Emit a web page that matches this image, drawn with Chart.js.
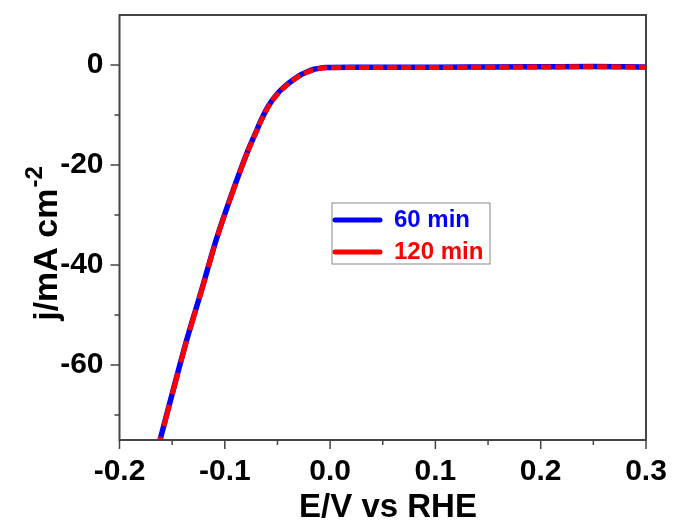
<!DOCTYPE html>
<html>
<head>
<meta charset="utf-8">
<script src="https://cdn.jsdelivr.net/npm/chart.js@4.4.1/dist/chart.umd.min.js"></script>
<style>
  body { margin: 0; background: #fff; }
  #wrap { width: 673px; height: 522px; }
</style>
</head>
<body>
<div id="wrap"><canvas id="lsvChart" width="673" height="522"></canvas></div>
<script>
// potential (V vs RHE) and current density (mA cm-2)
const potential = [-0.166, -0.1615, -0.149, -0.1362, -0.122, -0.1084, -0.0922, -0.078, -0.071, -0.065, -0.058, -0.0495, -0.042, -0.0353, -0.029, -0.0222, -0.016, -0.0096, -0.004, 0.0, 0.02, 0.05, 0.1, 0.15, 0.2, 0.25, 0.3];
const current60 = [-78.5, -75, -65, -55, -45, -35.1, -25.1, -17.1, -13.7, -10.8, -8.0, -5.6, -4.1, -3.0, -2.1, -1.4, -0.9, -0.65, -0.52, -0.48, -0.45, -0.45, -0.45, -0.4, -0.35, -0.3, -0.4];
const current120 = [-78.6, -75.1, -65.1, -55.1, -45.1, -35.2, -25.2, -17.2, -13.8, -10.9, -8.1, -5.7, -4.2, -3.05, -2.15, -1.45, -0.95, -0.7, -0.57, -0.53, -0.5, -0.5, -0.5, -0.45, -0.4, -0.35, -0.45];
const seriesNames = ['60 min', '120 min'];
const xTicks = [-0.2, -0.1, 0.0, 0.1, 0.2, 0.3];
const xMinor = [-0.15, -0.05, 0.05, 0.15, 0.25];
const yTicks = [-60, -40, -20, 0];
const yMinor = [-70, -50, -30, -10];
const xTitle = 'E/V vs RHE';
const yTitle = 'j/mA cm';
const yTitleSup = '-2';

const FONT = "'Liberation Sans', Arial, sans-serif";

const toPoints = ys => potential.map((x, i) => ({ x: x, y: ys[i] }));

// longer dashes on the steep part, short ones where the curve bends and flattens
const dashBySlope = ctx => {
  const dx = Math.abs(ctx.p1.x - ctx.p0.x), dy = Math.abs(ctx.p1.y - ctx.p0.y);
  return dy > 2.5 * dx ? [22, 11] : [10, 4];
};

const noPad = s => { s.paddingTop = 0; s.paddingBottom = 0; s.paddingLeft = 0; s.paddingRight = 0; };

// frame, outward ticks, axis titles and the boxed legend
const framePlugin = {
  id: 'frame',
  afterDraw(chart) {
    const ctx = chart.ctx;
    const a = chart.chartArea;
    const xs = chart.scales.x, ys = chart.scales.y;
    ctx.save();
    ctx.strokeStyle = '#444';
    ctx.lineWidth = 2;
    ctx.strokeRect(a.left, a.top, a.right - a.left, a.bottom - a.top);
    ctx.lineWidth = 1.5;
    ctx.beginPath();
    xTicks.forEach(v => { const p = xs.getPixelForValue(v); ctx.moveTo(p, a.bottom); ctx.lineTo(p, a.bottom + 9); });
    xMinor.forEach(v => { const p = xs.getPixelForValue(v); ctx.moveTo(p, a.bottom); ctx.lineTo(p, a.bottom + 5); });
    yTicks.forEach(v => { const p = ys.getPixelForValue(v); ctx.moveTo(a.left, p); ctx.lineTo(a.left - 9, p); });
    yMinor.forEach(v => { const p = ys.getPixelForValue(v); ctx.moveTo(a.left, p); ctx.lineTo(a.left - 5, p); });
    ctx.stroke();

    // axis titles
    ctx.fillStyle = '#000';
    ctx.textBaseline = 'alphabetic';
    ctx.textAlign = 'center';
    ctx.font = 'bold 33px ' + FONT;
    ctx.fillText(xTitle, 388, 517);

    ctx.save();
    ctx.translate(57, 244);
    ctx.rotate(-Math.PI / 2);
    ctx.textAlign = 'left';
    ctx.font = 'bold 34px ' + FONT;
    const w1 = ctx.measureText(yTitle).width;
    ctx.font = 'bold 24px ' + FONT;
    const w2 = ctx.measureText(yTitleSup).width;
    const start = -(w1 + w2) / 2;
    ctx.font = 'bold 34px ' + FONT;
    ctx.fillText(yTitle, start, 0);
    ctx.font = 'bold 24px ' + FONT;
    ctx.fillText(yTitleSup, start + w1 + 1, -15);
    ctx.restore();

    // legend
    const lx = 332, ly = 203, lw = 158, lh = 61;
    ctx.strokeStyle = '#888';
    ctx.lineWidth = 1;
    ctx.strokeRect(lx, ly, lw, lh);
    ctx.font = 'bold 24px ' + FONT;
    ctx.textAlign = 'left';
    ctx.textBaseline = 'middle';
    [0, 1].forEach(i => {
      const ds = chart.data.datasets[i];
      const y = ly + 17 + i * 32;
      ctx.strokeStyle = ds.borderColor;
      ctx.lineWidth = 5;
      ctx.lineCap = 'round';
      ctx.beginPath();
      ctx.moveTo(lx + 3, y);
      ctx.lineTo(lx + 48, y);
      ctx.stroke();
      ctx.fillStyle = ds.borderColor;
      ctx.fillText(ds.label, lx + 62, y);
    });
    ctx.restore();
  }
};

new Chart(document.getElementById('lsvChart'), {
  type: 'scatter',
  data: {
    datasets: [
      {
        label: seriesNames[0],
        data: toPoints(current60),
        showLine: true,
        borderColor: '#0000ff',
        borderWidth: 5.5,
        pointRadius: 0,
        order: 2,
        cubicInterpolationMode: 'monotone'
      },
      {
        label: seriesNames[1],
        data: toPoints(current120),
        showLine: true,
        borderColor: '#ff0000',
        borderWidth: 5,
        pointRadius: 0,
        order: 1,
        cubicInterpolationMode: 'monotone',
        segment: { borderDash: dashBySlope }
      }
    ]
  },
  options: {
    responsive: false,
    animation: false,
    layout: { padding: { top: 15, right: 27, left: 0, bottom: 0 } },
    plugins: { legend: { display: false }, tooltip: { enabled: false } },
    scales: {
      x: {
        type: 'linear',
        min: -0.2,
        max: 0.3,
        afterFit: s => { s.height = 82; noPad(s); },
        afterBuildTicks: s => { s.ticks = xTicks.map(v => ({ value: v })); },
        grid: { display: false, drawTicks: false },
        border: { display: false },
        ticks: {
          color: '#000',
          padding: 14,
          maxRotation: 0,
          font: { family: FONT, size: 30, weight: 'bold' },
          callback: v => v.toFixed(1)
        },
        title: { display: false }
      },
      y: {
        min: -75,
        max: 10,
        afterFit: s => { s.width = 119.5; noPad(s); },
        afterBuildTicks: s => { s.ticks = yTicks.map(v => ({ value: v })); },
        grid: { display: false, drawTicks: false },
        border: { display: false },
        ticks: {
          color: '#000',
          padding: 16,
          font: { family: FONT, size: 30, weight: 'bold' },
          callback: v => String(v)
        },
        title: { display: false }
      }
    }
  },
  plugins: [framePlugin]
});
</script>
</body>
</html>
